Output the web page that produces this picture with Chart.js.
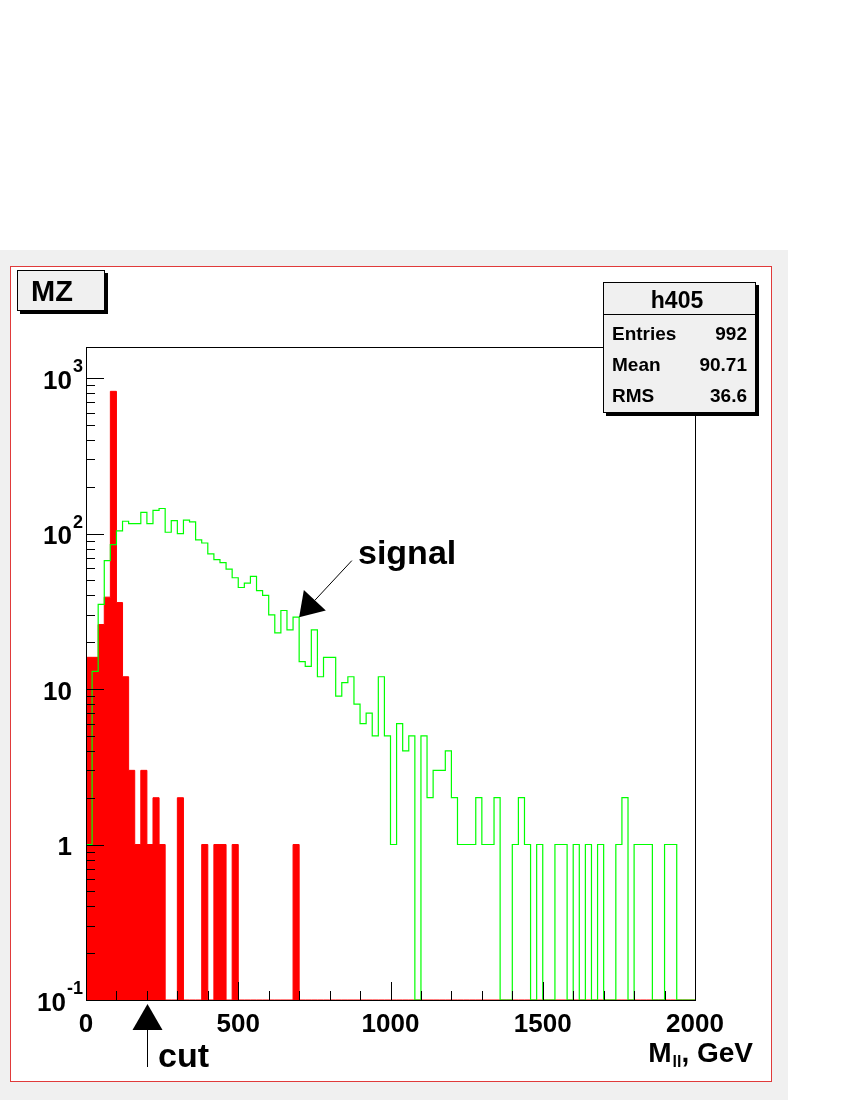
<!DOCTYPE html>
<html>
<head>
<meta charset="utf-8">
<title>MZ</title>
<script src="https://cdn.jsdelivr.net/npm/chart.js@4.4.1/dist/chart.umd.min.js"></script>
<style>
  html, body { margin: 0; padding: 0; background: #fff; }
  canvas { display: block; }
</style>
</head>
<body>
<canvas id="chart" width="850" height="1100"></canvas>
<script>
// histogram binning: 100 bins of 20 GeV from 0 to 2000
const BIN_WIDTH = 20;
const X_MIN = 0;
const X_MAX = 2000;
const Y_MIN = 0.1;
const Y_MAX = 1585;

const X_TICK_VALUES = [0, 500, 1000, 1500, 2000];
const X_TICK_LABELS = ['0', '500', '1000', '1500', '2000'];
const Y_TICK_POWERS = [-1, 0, 1, 2, 3];

// green outline, entries per bin
const signalCounts = [
  1, 13, 35, 67, 85, 104, 120, 116, 116, 137,
  116, 141, 145, 102, 121, 100, 122, 119, 91, 87,
  74, 68, 65, 59, 52, 45, 48, 53, 43, 40,
  30, 23, 32, 24, 29, 15, 14, 24, 12, 16,
  16, 9, 11, 12, 8, 6, 7, 5, 12, 5,
  1, 6, 4, 5, 0, 5, 2, 3, 3, 4,
  2, 1, 1, 1, 2, 1, 1, 2, 0, 0,
  1, 2, 1, 0, 1, 0, 0, 1, 1, 0,
  1, 0, 1, 0, 1, 0, 0, 1, 2, 0,
  1, 1, 1, 0, 0, 1, 1, 0, 0, 0,
];

// red filled histogram (h405), entries per bin
const zCounts = [
  16, 16, 26, 39, 822, 36, 12, 3, 1, 3,
  1, 2, 1, 0, 0, 2, 0, 0, 0, 1,
  0, 1, 1, 0, 1, 0, 0, 0, 0, 0,
  0, 0, 0, 0, 1, 0, 0, 0, 0, 0,
  0, 0, 0, 0, 0, 0, 0, 0, 0, 0,
  0, 0, 0, 0, 0, 0, 0, 0, 0, 0,
  0, 0, 0, 0, 0, 0, 0, 0, 0, 0,
  0, 0, 0, 0, 0, 0, 0, 0, 0, 0,
  0, 0, 0, 0, 0, 0, 0, 0, 0, 0,
  0, 0, 0, 0, 0, 0, 0, 0, 0, 0,
];

const STATS_TITLE = 'h405';
const STATS_NAMES = ['Entries', 'Mean', 'RMS'];
const STATS_VALUES = ['992', '90.71', '36.6'];

const CUT_AT = 200;
const SIGNAL_ARROW_FROM = [873, 67];
const SIGNAL_ARROW_TO = [700, 29];

const FONT = '"Liberation Sans", Arial, Helvetica, sans-serif';

// bin left edges + closing edge, zero bins pinned to the axis floor
function toSteps(counts) {
  const points = counts.map((c, i) => ({ x: X_MIN + i * BIN_WIDTH, y: c > 0 ? c : Y_MIN }));
  points.push({ x: X_MIN + counts.length * BIN_WIDTH, y: points[points.length - 1].y });
  return points;
}

function drawArrow(ctx, x1, y1, x2, y2, headLen, halfW) {
  const ang = Math.atan2(y2 - y1, x2 - x1);
  const bx = x2 - Math.cos(ang) * headLen;
  const by = y2 - Math.sin(ang) * headLen;
  ctx.strokeStyle = '#000';
  ctx.lineWidth = 1;
  ctx.beginPath();
  ctx.moveTo(x1, y1);
  ctx.lineTo(bx, by);
  ctx.stroke();
  ctx.fillStyle = '#000';
  ctx.beginPath();
  ctx.moveTo(x2, y2);
  ctx.lineTo(bx + Math.sin(ang) * halfW, by - Math.cos(ang) * halfW);
  ctx.lineTo(bx - Math.sin(ang) * halfW, by + Math.cos(ang) * halfW);
  ctx.closePath();
  ctx.fill();
}

function shadowBox(ctx, x, y, w, h) {
  ctx.fillStyle = '#000';
  ctx.fillRect(x + 3, y + 3, w, h);
  ctx.fillStyle = '#f0f0f0';
  ctx.fillRect(x, y, w, h);
  ctx.strokeStyle = '#000';
  ctx.lineWidth = 1;
  ctx.strokeRect(x + 0.5, y + 0.5, w - 1, h - 1);
}

const backdrop = {
  id: 'backdrop',
  beforeDraw(chart) {
    const { ctx } = chart;
    ctx.save();
    ctx.fillStyle = '#fff';
    ctx.fillRect(0, 0, chart.width, chart.height);
    ctx.fillStyle = '#f0f0f0';
    ctx.fillRect(0, 250, 788, 850);
    ctx.fillStyle = '#fff';
    ctx.fillRect(10, 266, 762, 816);
    ctx.strokeStyle = '#e03a3a';
    ctx.lineWidth = 1;
    ctx.strokeRect(10.5, 266.5, 761, 815);
    ctx.restore();
  },
};

const decorations = {
  id: 'decorations',
  afterDraw(chart) {
    const { ctx, chartArea: area } = chart;
    const xs = chart.scales.x;
    const ys = chart.scales.y;
    ctx.save();

    // frame
    ctx.strokeStyle = '#000';
    ctx.lineWidth = 1;
    ctx.strokeRect(Math.round(area.left) + 0.5, Math.round(area.top) + 0.5,
      Math.round(area.right - area.left), Math.round(area.bottom - area.top));

    // y ticks (major + 2..9 minors)
    ctx.beginPath();
    Y_TICK_POWERS.forEach((p) => {
      for (let m = 1; m <= 9; m++) {
        const v = m * Math.pow(10, p);
        if (v > Y_MAX) break;
        const y = Math.round(ys.getPixelForValue(v)) + 0.5;
        ctx.moveTo(area.left, y);
        ctx.lineTo(area.left + (m === 1 ? 18 : 9), y);
      }
    });
    // x ticks every 100
    for (let v = X_MIN; v <= X_MAX; v += 100) {
      const x = Math.round(xs.getPixelForValue(v)) + 0.5;
      ctx.moveTo(x, area.bottom);
      ctx.lineTo(x, area.bottom - (v % 500 === 0 ? 18 : 9));
    }
    ctx.stroke();

    // y labels
    ctx.fillStyle = '#000';
    Y_TICK_POWERS.forEach((p) => {
      const y = ys.getPixelForValue(Math.pow(10, p));
      ctx.font = `bold 26px ${FONT}`;
      ctx.textBaseline = 'alphabetic';
      if (p === 0 || p === 1) {
        ctx.textAlign = 'right';
        ctx.fillText(p === 0 ? '1' : '10', 72, y + 10.5);
      } else {
        const sup = String(p);
        ctx.font = `bold 18px ${FONT}`;
        const supW = ctx.measureText(sup).width;
        ctx.textAlign = 'left';
        ctx.fillText(sup, 83 - supW, y - 6);
        ctx.font = `bold 26px ${FONT}`;
        ctx.textAlign = 'right';
        ctx.fillText('10', 83 - supW - 1, y + 10.5);
      }
    });

    // x labels
    ctx.font = `bold 26px ${FONT}`;
    ctx.textAlign = 'center';
    X_TICK_VALUES.forEach((v, i) => {
      ctx.fillText(X_TICK_LABELS[i], xs.getPixelForValue(v), 1032);
    });

    // x title: M_ll, GeV
    ctx.textAlign = 'left';
    ctx.font = `bold 28px ${FONT}`;
    const tail = ', GeV';
    const tailW = ctx.measureText(tail).width;
    const mW = ctx.measureText('M').width;
    ctx.font = `bold 16px ${FONT}`;
    const subW = ctx.measureText('ll').width;
    let tx = 753 - tailW - subW - mW - 1;
    ctx.font = `bold 28px ${FONT}`;
    ctx.fillText('M', tx, 1062);
    tx += mW + 1;
    ctx.font = `bold 16px ${FONT}`;
    ctx.fillText('ll', tx, 1067);
    tx += subW;
    ctx.font = `bold 28px ${FONT}`;
    ctx.fillText(tail, tx, 1062);

    // MZ title box
    shadowBox(ctx, 17, 270, 88, 41);
    ctx.fillStyle = '#000';
    ctx.font = `bold 29px ${FONT}`;
    ctx.textAlign = 'left';
    ctx.fillText('MZ', 31, 301);

    // stats box
    shadowBox(ctx, 603, 282, 153, 131);
    ctx.beginPath();
    ctx.moveTo(603, 314.5);
    ctx.lineTo(756, 314.5);
    ctx.stroke();
    ctx.fillStyle = '#000';
    ctx.font = `bold 23px ${FONT}`;
    ctx.textAlign = 'center';
    ctx.fillText(STATS_TITLE, 677, 308);
    ctx.font = `bold 19px ${FONT}`;
    STATS_NAMES.forEach((name, i) => {
      const y = 340 + i * 31;
      ctx.textAlign = 'left';
      ctx.fillText(name, 612, y);
      ctx.textAlign = 'right';
      ctx.fillText(STATS_VALUES[i], 747, y);
    });

    // signal annotation
    drawArrow(ctx,
      xs.getPixelForValue(SIGNAL_ARROW_FROM[0]), ys.getPixelForValue(SIGNAL_ARROW_FROM[1]),
      xs.getPixelForValue(SIGNAL_ARROW_TO[0]), ys.getPixelForValue(SIGNAL_ARROW_TO[1]),
      23, 15);
    ctx.fillStyle = '#000';
    ctx.font = `bold 34px ${FONT}`;
    ctx.textAlign = 'left';
    ctx.fillText('signal', 358, 564);

    // cut annotation
    const cx = Math.round(xs.getPixelForValue(CUT_AT)) + 0.5;
    drawArrow(ctx, cx, 1067, cx, area.bottom + 4, 26, 15);
    ctx.fillStyle = '#000';
    ctx.font = `bold 34px ${FONT}`;
    ctx.fillText('cut', 158, 1067);

    ctx.restore();
  },
};

const ctx = document.getElementById('chart').getContext('2d');
new Chart(ctx, {
  type: 'line',
  data: {
    datasets: [
      {
        label: 'signal',
        data: toSteps(signalCounts),
        borderColor: '#00ff00',
        borderWidth: 1.2,
        stepped: true,
        fill: false,
        pointRadius: 0,
      },
      {
        label: 'h405',
        data: toSteps(zCounts),
        borderColor: '#ff0000',
        backgroundColor: '#ff0000',
        borderWidth: 1,
        stepped: true,
        fill: 'start',
        pointRadius: 0,
      },
    ],
  },
  options: {
    responsive: false,
    animation: false,
    events: [],
    layout: {
      padding: { left: 86, top: 347, right: 155, bottom: 100 },
    },
    scales: {
      x: { type: 'linear', min: X_MIN, max: X_MAX, bounds: 'data', display: false },
      y: { type: 'logarithmic', min: Y_MIN, max: Y_MAX, bounds: 'data', display: false },
    },
    plugins: {
      legend: { display: false },
      tooltip: { enabled: false },
    },
  },
  plugins: [backdrop, decorations],
});
</script>
</body>
</html>
